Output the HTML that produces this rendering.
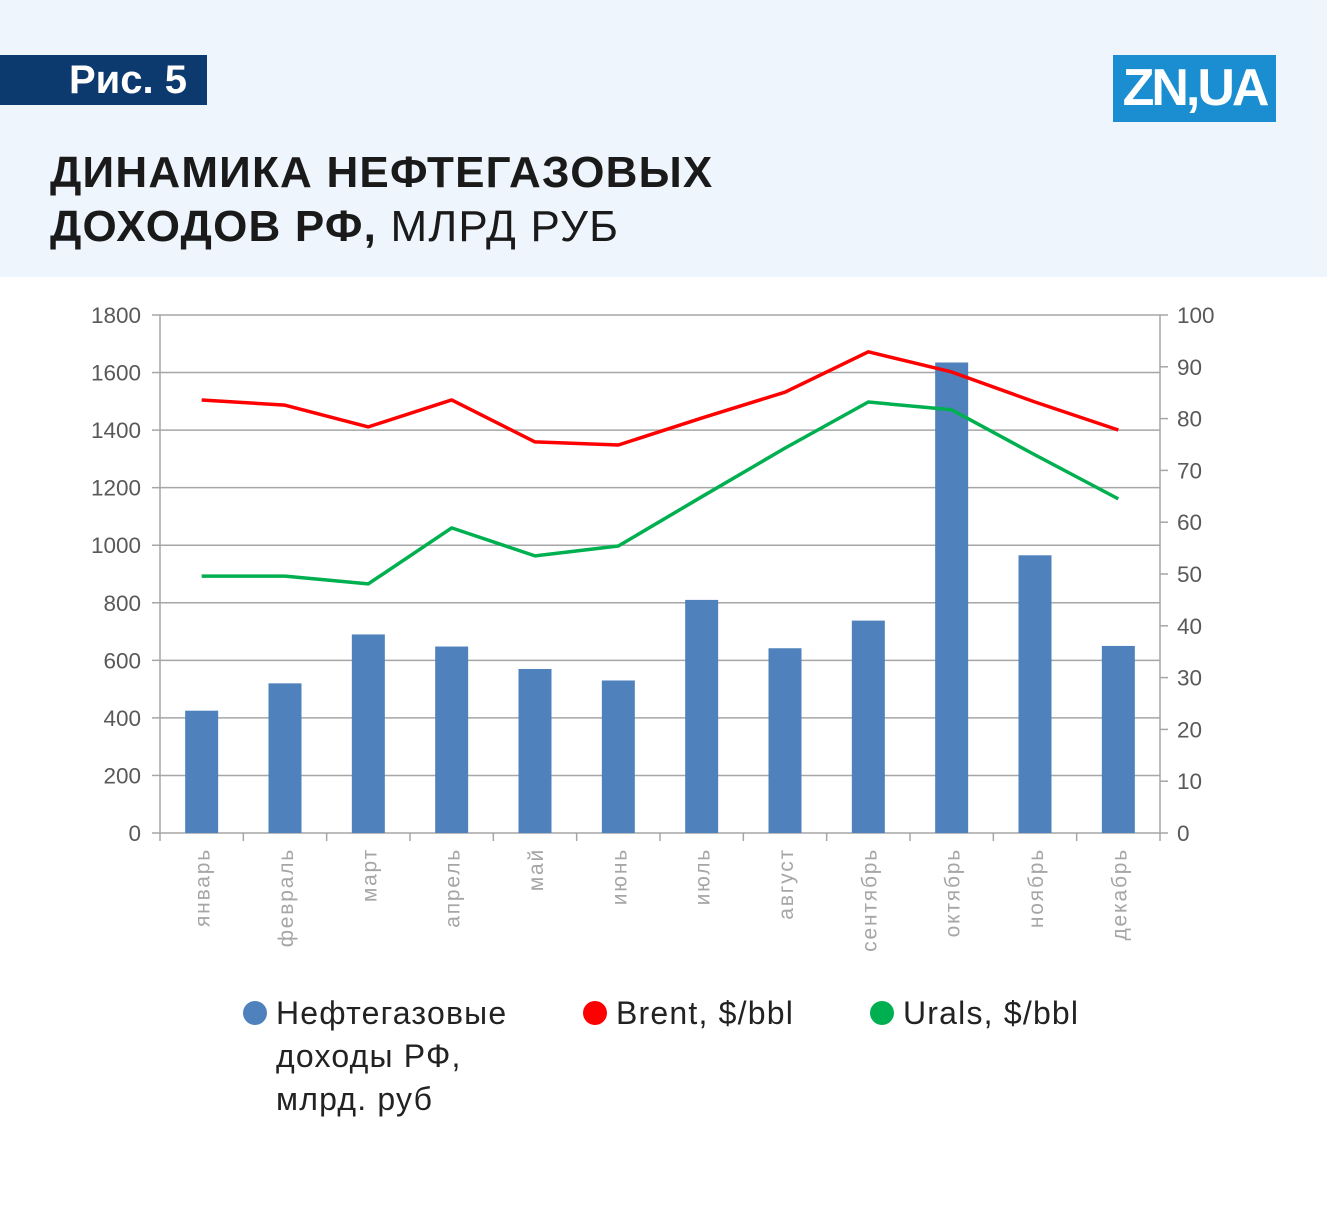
<!DOCTYPE html>
<html><head><meta charset="utf-8">
<style>
body{margin:0;width:1327px;height:1213px;background:#fff;font-family:"Liberation Sans","DejaVu Sans",sans-serif;overflow:hidden;position:relative}
#hdr{position:absolute;left:0;top:0;width:1327px;height:277px;background:#eef5fd}
#fig{position:absolute;left:0;top:55px;width:207px;height:50px;background:#0d3a6e;color:#fff;font-weight:bold;font-size:40px;line-height:50px;text-align:right;box-sizing:border-box;padding-right:20px}
#logo{position:absolute;left:1113px;top:55px;width:163px;height:67px;background:#1a8ed0;color:#fff;font-weight:bold;font-size:52px;line-height:67px;text-align:center;letter-spacing:-3px}
#title{position:absolute;left:50px;top:146px;font-size:44px;line-height:54px;color:#1a1a1a;font-weight:bold;letter-spacing:1.2px}
#title span{font-weight:normal}
svg{position:absolute;left:0;top:0}
</style></head><body>
<div id="hdr"></div>
<div id="fig">Рис. 5</div>
<div id="logo">ZN,UA</div>
<div id="title">ДИНАМИКА НЕФТЕГАЗОВЫХ<br>ДОХОДОВ РФ, <span>МЛРД РУБ</span></div>
<svg id="chart" width="1327" height="1213"></svg>
<script>
const months=["январь","февраль","март","апрель","май","июнь","июль","август","сентябрь","октябрь","ноябрь","декабрь"];
const revenue=[425,520,690,648,570,530,810,642,738,1635,965,650];
const brent=[83.6,82.6,78.4,83.6,75.5,74.9,80.1,85.1,92.9,89,83.2,77.8];
const urals=[49.6,49.6,48.1,58.9,53.5,55.4,64.9,74.3,83.2,81.7,73,64.5];
const leftTicks=[0,200,400,600,800,1000,1200,1400,1600,1800];
const rightTicks=[0,10,20,30,40,50,60,70,80,90,100];
const NS="http://www.w3.org/2000/svg";
const svg=document.getElementById('chart');
const X0=160,X1=1160,Y0=833,Y1=315;
const yL=v=>Y0-(v/1800)*(Y0-Y1);
const yR=v=>Y0-(v/100)*(Y0-Y1);
const bw=(X1-X0)/months.length;
const xc=i=>X0+bw*(i+0.5);
function mk(t,a,p){const e=document.createElementNS(NS,t);for(const k in a)e.setAttribute(k,a[k]);(p||svg).appendChild(e);return e;}
leftTicks.forEach(v=>{
  const g=mk('line',{x1:X0,x2:X1,y1:yL(v),y2:yL(v),stroke:'#a6a6a6','stroke-width':1.5});
  
  
  mk('line',{x1:X0-8,x2:X0,y1:yL(v),y2:yL(v),stroke:'#a6a6a6','stroke-width':1.5});
  const t=mk('text',{x:X0-19,y:yL(v)+8,'text-anchor':'end','font-size':22.5,fill:'#595959'});t.textContent=v;
  
  
});
rightTicks.forEach(v=>{
  mk('line',{x1:X1,x2:X1+8,y1:yR(v),y2:yR(v),stroke:'#a6a6a6','stroke-width':1.5});
  const t=mk('text',{x:X1+17,y:yR(v)+8,'font-size':22.5,fill:'#595959'});t.textContent=v;
  
  
});
mk('line',{x1:X0,x2:X0,y1:Y1,y2:Y0,stroke:'#a6a6a6','stroke-width':1.5});
mk('line',{x1:X1,x2:X1,y1:Y1,y2:Y0,stroke:'#a6a6a6','stroke-width':1.5});
months.forEach((m,i)=>{
  mk('line',{x1:X0+bw*i,x2:X0+bw*i,y1:Y0,y2:Y0+8,stroke:'#a6a6a6','stroke-width':1.5});
  const b=mk('rect',{x:xc(i)-16.5,y:yL(revenue[i]),width:33,height:Y0-yL(revenue[i]),fill:'#4f81bd'});
  
  
  const t=mk('text',{transform:`translate(${xc(i)+8},848) rotate(-90)`,'text-anchor':'end','font-size':21,'letter-spacing':'1.8',fill:'#a6a6a6'});t.textContent=m;
  
  
});
mk('line',{x1:X1,x2:X1,y1:Y0,y2:Y0+8,stroke:'#a6a6a6','stroke-width':1.5});
function line(arr,col,name){
  const p=mk('polyline',{points:arr.map((v,i)=>xc(i)+','+yR(v)).join(' '),fill:'none',stroke:col,'stroke-width':3.5,'stroke-linejoin':'round'});
  
  
}
line(brent,'#ff0000','brent-line');
line(urals,'#00b050','urals-line');
const leg=[[255,'#4f81bd',['Нефтегазовые','доходы РФ,','млрд. руб'],'legend-revenue'],[595,'#ff0000',['Brent, $/bbl'],'legend-brent'],[882,'#00b050',['Urals, $/bbl'],'legend-urals']];
leg.forEach(([x,c,lines,n])=>{
  const g=mk('g',{});
  
  
  mk('circle',{cx:x,cy:1013,r:12,fill:c},g);
  lines.forEach((s,k)=>{const t=mk('text',{x:x+21,y:1024+k*43,'font-size':32,'letter-spacing':'1.2',fill:'#222'},g);t.textContent=s;});
});
</script>
</body></html>
